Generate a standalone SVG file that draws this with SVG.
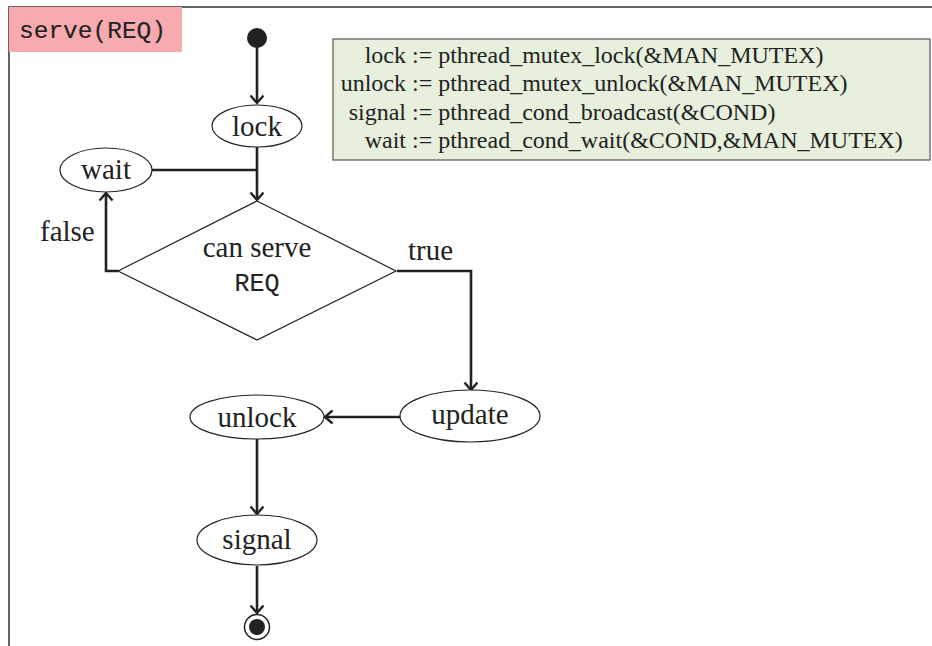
<svg xmlns="http://www.w3.org/2000/svg" width="932" height="646" viewBox="0 0 932 646">
<style>
.t{font-family:"Liberation Serif","DejaVu Serif",serif;fill:#222}
.m{font-family:"Liberation Mono","DejaVu Sans Mono",monospace;fill:#222;stroke:#222;stroke-width:0.15}
.n{fill:#fff;stroke:#222;stroke-width:1.2}
.c{fill:none;stroke:#222;stroke-width:2.6}
.lab{font-size:29px;text-anchor:middle}
</style>
<defs>
<marker id="ar" markerUnits="userSpaceOnUse" markerWidth="16" markerHeight="16" refX="9" refY="7" orient="auto">
<path d="M1.5,0.5 L9,7 L1.5,13.5" fill="none" stroke="#222" stroke-width="2.4"/>
</marker>
</defs>
<rect width="932" height="646" fill="#fff"/>
<path d="M9,646 L9,7 L932,7" fill="none" stroke="#333" stroke-width="1.5"/>
<g id="title">
<rect x="9" y="7" width="173" height="45" fill="#f7abb0"/>
<text class="m" x="19" y="38" font-size="24.5">serve(REQ)</text>
</g>
<g id="legend">
<rect x="333" y="39" width="597" height="121" fill="#e6f0dc" stroke="#555" stroke-width="1.2"/>
<g class="t" font-size="24">
<text x="406" y="63" text-anchor="end">lock</text>
<text x="406" y="91" text-anchor="end">unlock</text>
<text x="406" y="120" text-anchor="end">signal</text>
<text x="406" y="148" text-anchor="end">wait</text>
<text x="412" y="63">:= pthread_mutex_lock(&amp;MAN_MUTEX)</text>
<text x="412" y="91">:= pthread_mutex_unlock(&amp;MAN_MUTEX)</text>
<text x="412" y="120">:= pthread_cond_broadcast(&amp;COND)</text>
<text x="412" y="148">:= pthread_cond_wait(&amp;COND,&amp;MAN_MUTEX)</text>
</g>
</g>
<g id="connectors">
<path class="c" d="M257,44 L257,103" marker-end="url(#ar)"/>
<path class="c" d="M257,147 L257,200" marker-end="url(#ar)"/>
<path class="c" d="M152,170 L257,170"/>
<path class="c" d="M118,271 L106,271 L106,193" marker-end="url(#ar)"/>
<path class="c" d="M397,271 L471,271 L471,390" marker-end="url(#ar)"/>
<path class="c" d="M400,417 L325,417" marker-end="url(#ar)"/>
<path class="c" d="M257,439 L257,514" marker-end="url(#ar)"/>
<path class="c" d="M257,566 L257,613" marker-end="url(#ar)"/>
<text class="t" x="40" y="241" font-size="29">false</text>
<text class="t" x="408" y="260" font-size="29">true</text>
</g>
<g id="start"><circle cx="257" cy="38" r="10" fill="#222"/></g>
<g id="lock"><ellipse class="n" cx="257" cy="126" rx="45" ry="21"/><text class="t lab" x="257" y="136">lock</text></g>
<g id="wait"><ellipse class="n" cx="106" cy="170" rx="46" ry="22"/><text class="t lab" x="106" y="179">wait</text></g>
<g id="decision"><path class="n" d="M257,201 L396,271 L257,340 L118,271 Z"/>
<text class="t lab" x="257" y="257">can serve</text>
<text class="m" x="257" y="291" font-size="25" text-anchor="middle">REQ</text></g>
<g id="update"><ellipse class="n" cx="470" cy="416" rx="70" ry="26"/><text class="t lab" x="470" y="424">update</text></g>
<g id="unlock"><ellipse class="n" cx="257" cy="417" rx="67" ry="22"/><text class="t lab" x="257" y="427">unlock</text></g>
<g id="signal"><ellipse class="n" cx="257" cy="540" rx="60" ry="25"/><text class="t lab" x="257" y="549">signal</text></g>
<g id="end"><circle cx="257" cy="627" r="12.5" fill="#fff" stroke="#222" stroke-width="1.5"/><circle cx="257" cy="627" r="8" fill="#222"/></g>
</svg>
